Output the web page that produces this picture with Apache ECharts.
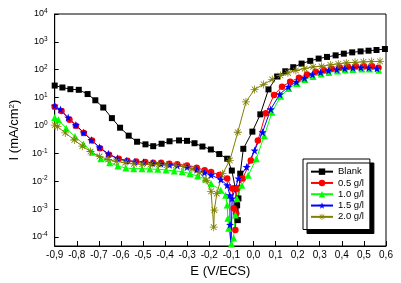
<!DOCTYPE html>
<html>
<head>
<meta charset="utf-8">
<script src="https://cdn.jsdelivr.net/npm/echarts@6.0.0/dist/echarts.min.js"></script>
<style>
  html, body { margin: 0; padding: 0; background: #fff; }
  #main { width: 401px; height: 283px; }
</style>
</head>
<body>
<div id="main"></div>
<script>
// 曲线数据：电位 E (V/ECS) 和电流密度 I (mA/cm2)
const names = ['Blank', '0.5 g/l', '1.0 g/l', '1.5 g/l', '2.0 g/l']

const blankE = [-0.900, -0.865, -0.829, -0.791, -0.751, -0.716, -0.680, -0.641, -0.604, -0.565, -0.527, -0.489, -0.454, -0.416, -0.380, -0.337, -0.301, -0.267, -0.231, -0.193, -0.155, -0.119, -0.098, -0.082, -0.074, -0.071, -0.068, -0.060, -0.046, -0.005, 0.031, 0.068, 0.107, 0.144, 0.180, 0.218, 0.257, 0.295, 0.333, 0.372, 0.409, 0.447, 0.485, 0.521, 0.557, 0.595]
const blankI = [27, 23, 20, 19, 13.4, 8.0, 4.4, 1.83, 0.83, 0.43, 0.26, 0.21, 0.18, 0.22, 0.27, 0.29, 0.28, 0.23, 0.175, 0.137, 0.094, 0.064, 0.024, 0.0055, 0.00136, 0.0004, 0.0024, 0.0186, 0.145, 0.60, 2.5, 19.7, 57, 88, 123, 166, 208, 251, 288, 328, 377, 420, 455, 482, 510, 554]

const c05E = [-0.900, -0.869, -0.833, -0.804, -0.768, -0.731, -0.695, -0.654, -0.610, -0.571, -0.531, -0.490, -0.454, -0.418, -0.381, -0.345, -0.301, -0.257, -0.221, -0.192, -0.155, -0.119, -0.097, -0.090, -0.082, -0.078, -0.075, -0.049, -0.012, 0.020, 0.056, 0.093, 0.129, 0.166, 0.206, 0.242, 0.282, 0.319, 0.355, 0.391, 0.428, 0.464, 0.501, 0.537, 0.566]
const c05I = [4.7, 3.3, 1.6, 0.98, 0.54, 0.29, 0.153, 0.0885, 0.064, 0.054, 0.051, 0.0486, 0.046, 0.046, 0.042, 0.0406, 0.0368, 0.0305, 0.0244, 0.0214, 0.0165, 0.0124, 0.0055, 0.00106, 0.000175, 0.0007, 0.0055, 0.0124, 0.0554, 0.286, 2.76, 12.4, 24.6, 37, 51.5, 67.5, 84, 96, 108, 120, 127, 133, 133, 133, 117]

const c10E = [-0.900, -0.883, -0.848, -0.808, -0.770, -0.731, -0.691, -0.651, -0.614, -0.578, -0.542, -0.505, -0.469, -0.433, -0.396, -0.359, -0.323, -0.288, -0.253, -0.218, -0.192, -0.148, -0.126, -0.119, -0.116, -0.112, -0.100, -0.090, -0.082, -0.075, -0.053, -0.024, 0.013, 0.049, 0.084, 0.123, 0.160, 0.198, 0.233, 0.270, 0.307, 0.342, 0.381, 0.416, 0.451, 0.491, 0.526, 0.567]
const c10I = [1.94, 1.6, 0.79, 0.40, 0.218, 0.110, 0.064, 0.046, 0.035, 0.0297, 0.0281, 0.0281, 0.0274, 0.0265, 0.0252, 0.0233, 0.022, 0.0186, 0.0152, 0.0119, 0.0082, 0.0047, 0.00315, 0.00139, 0.00047, 0.000206, 0.000055, 0.000091, 0.00061, 0.0024, 0.0071, 0.0162, 0.064, 0.43, 3.0, 11.1, 21.4, 32.3, 44.8, 57.3, 70.3, 79.5, 90, 97.5, 102, 106, 106, 96]

const c15E = [-0.900, -0.874, -0.839, -0.804, -0.769, -0.734, -0.697, -0.657, -0.616, -0.576, -0.537, -0.498, -0.458, -0.419, -0.380, -0.345, -0.301, -0.257, -0.222, -0.192, -0.148, -0.119, -0.107, -0.106, -0.102, -0.097, -0.068, -0.031, 0.005, 0.041, 0.078, 0.119, 0.158, 0.194, 0.231, 0.267, 0.304, 0.340, 0.377, 0.413, 0.450, 0.486, 0.522, 0.559]
const c15I = [5.1, 3.7, 1.91, 1.03, 0.56, 0.30, 0.164, 0.096, 0.066, 0.054, 0.050, 0.048, 0.044, 0.042, 0.039, 0.036, 0.0318, 0.0259, 0.0202, 0.0165, 0.0114, 0.0071, 0.00315, 0.00027, 0.000021, 0.0024, 0.0124, 0.0323, 0.126, 0.57, 3.8, 13.1, 24.6, 35.9, 49.9, 67.5, 81.5, 93.7, 102, 110, 117, 120, 117, 110]

const c20E = [-0.900, -0.887, -0.852, -0.811, -0.775, -0.738, -0.697, -0.658, -0.621, -0.581, -0.541, -0.504, -0.467, -0.430, -0.393, -0.352, -0.316, -0.279, -0.244, -0.214, -0.192, -0.180, -0.177, -0.166, -0.140, -0.107, -0.071, -0.034, 0.005, 0.046, 0.085, 0.122, 0.156, 0.192, 0.232, 0.270, 0.308, 0.348, 0.384, 0.420, 0.460, 0.498, 0.534, 0.573]
const c20I = [1.03, 0.90, 0.54, 0.30, 0.18, 0.116, 0.077, 0.060, 0.051, 0.046, 0.042, 0.0406, 0.039, 0.039, 0.0374, 0.0368, 0.0331, 0.027, 0.0202, 0.0108, 0.0043, 0.000223, 0.00092, 0.0036, 0.0186, 0.0554, 0.57, 7.0, 19.7, 29.7, 44.8, 62, 77.6, 93.7, 110, 127, 133, 149, 162, 176, 185, 191, 196, 200]

// 符号：五角星、米字形
const starPath = 'path://M0,-10L2.35,-3.24L9.51,-3.09L3.8,1.24L5.88,8.09L0,4L-5.88,8.09L-3.8,1.24L-9.51,-3.09L-2.35,-3.24Z'
const asteriskPath = 'path://M-1,-10L1,-10L1,10L-1,10Z M-10,-1L10,-1L10,1L-10,1Z M-6.36,-7.78L7.78,6.36L6.36,7.78L-7.78,-6.36Z M-7.78,6.36L6.36,-7.78L7.78,-6.36L-6.36,7.78Z'

const font = 'Liberation Sans, Arial, sans-serif'

const zip = (xs, ys) => xs.map((x, i) => [x, ys[i]])

const makeSeries = (name, xs, ys, color, symbol, size) => ({
  name: name,
  type: 'line',
  data: zip(xs, ys),
  symbol: symbol,
  symbolSize: size,
  showSymbol: true,
  lineStyle: { color: color, width: 1 },
  itemStyle: { color: color },
  animation: false
})

const dom = document.getElementById('main')
const myChart = echarts.init(dom)

const option = {
  textStyle: { fontFamily: font },
  grid: {
    left: 43, right: 15, top: 14, bottom: 35,
    show: true, borderColor: '#000', borderWidth: 1
  },
  legend: {
    data: names,
    orient: 'vertical',
    left: 303,
    top: 159,
    padding: [7, 6, 7, 7],
    itemWidth: 22,
    itemHeight: 8,
    itemGap: 0,
    backgroundColor: '#fff',
    borderColor: '#000',
    borderWidth: 1,
    shadowColor: '#000',
    shadowBlur: 0,
    shadowOffsetX: 4,
    shadowOffsetY: 4,
    textStyle: { fontFamily: font, fontSize: 9.5, lineHeight: 11.3, color: '#000' }
  },
  xAxis: {
    type: 'value',
    min: -0.9,
    max: 0.6,
    interval: 0.1,
    name: 'E (V/ECS)',
    nameLocation: 'middle',
    nameGap: 19,
    nameTextStyle: { fontFamily: font, fontSize: 13, color: '#000' },
    axisLine: { show: true, onZero: false, lineStyle: { color: '#000', width: 1 } },
    axisTick: { show: true, inside: true, length: 5, lineStyle: { color: '#000' } },
    axisLabel: {
      fontFamily: font, fontSize: 10, color: '#000', margin: 4,
      formatter: v => (Math.abs(v) < 1e-9 ? '0,0' : v.toFixed(1).replace('.', ','))
    },
    splitLine: { show: false }
  },
  yAxis: {
    type: 'log',
    logBase: 10,
    min: Math.pow(10, -4.327),
    max: 1e4,
    splitNumber: 8,
    name: 'I (mA/cm{s|2})',
    nameLocation: 'middle',
    nameGap: 25,
    nameTextStyle: {
      fontFamily: font, fontSize: 13, color: '#000',
      rich: { s: { fontFamily: font, fontSize: 8, lineHeight: 8, verticalAlign: 'top', color: '#000' } }
    },
    axisLine: { show: true, onZero: false, lineStyle: { color: '#000', width: 1 } },
    axisTick: { show: true, inside: true, length: 4, lineStyle: { color: '#000' } },
    axisLabel: {
      margin: 7,
      formatter: v => {
        const e = Math.log10(v)
        const r = Math.round(e)
        if (Math.abs(e - r) > 1e-6) return ''
        return '{b|10}{s|' + r + '}'
      },
      rich: {
        b: { fontFamily: font, fontSize: 9, lineHeight: 12, color: '#000' },
        s: { fontFamily: font, fontSize: 6.5, lineHeight: 7, verticalAlign: 'top', color: '#000' }
      }
    },
    splitLine: { show: false }
  },
  series: [
    makeSeries(names[0], blankE, blankI, '#000000', 'rect', 6),
    makeSeries(names[1], c05E, c05I, '#ff0000', 'circle', 6.5),
    makeSeries(names[2], c10E, c10I, '#00ff00', 'triangle', 7),
    makeSeries(names[3], c15E, c15I, '#0000ff', starPath, 8),
    makeSeries(names[4], c20E, c20I, '#808000', asteriskPath, 8)
  ]
}

myChart.setOption(option)
</script>
</body>
</html>
